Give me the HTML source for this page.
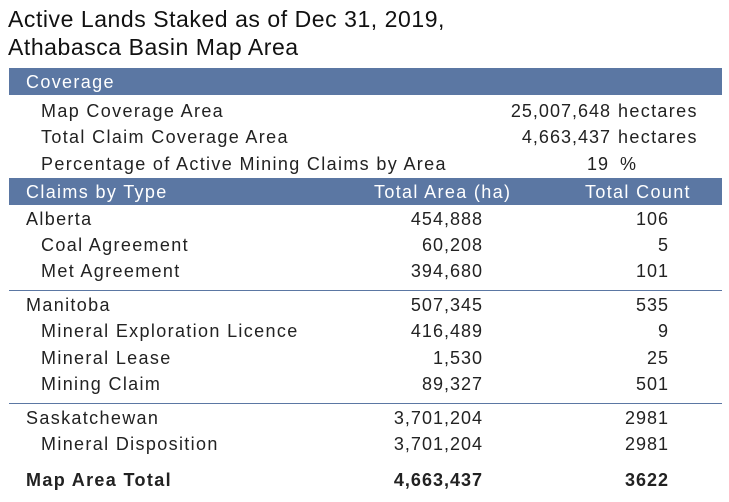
<!DOCTYPE html>
<html><head><meta charset="utf-8"><style>
body{margin:0;width:729px;height:502px;background:#fff;position:relative;overflow:hidden;font-family:"Liberation Sans",sans-serif;color:#222;}
.t{position:absolute;font-size:23px;left:8px;color:#111;letter-spacing:0.55px;}
.bar{position:absolute;left:9px;width:713px;height:27px;background:#5b77a3;}
.r{position:absolute;font-size:18px;letter-spacing:1.35px;line-height:20px;white-space:nowrap;}
.ra{text-align:right;letter-spacing:1px;}
.w{color:#fff;}
.hl{position:absolute;left:9px;width:713px;height:1px;background:#5b77a3;}
b{font-weight:bold;}
</style></head><body>
<div class="t" style="top:6px">Active Lands Staked as of Dec 31, 2019,</div>
<div class="t" style="top:34px">Athabasca Basin Map Area</div>
<div class="bar" style="top:68px"></div>
<div class="r w" style="left:26px;top:72px">Coverage</div>
<div class="r" style="left:41px;top:101px">Map Coverage Area</div>
<div class="r ra" style="right:118px;top:101px">25,007,648</div>
<div class="r" style="left:618px;top:101px">hectares</div>
<div class="r" style="left:41px;top:127px">Total Claim Coverage Area</div>
<div class="r ra" style="right:118px;top:127px">4,663,437</div>
<div class="r" style="left:618px;top:127px">hectares</div>
<div class="r" style="left:41px;top:154px">Percentage of Active Mining Claims by Area</div>
<div class="r ra" style="right:120px;top:154px">19</div>
<div class="r" style="left:620px;top:154px">%</div>
<div class="bar" style="top:178px"></div>
<div class="r w" style="left:26px;top:182px">Claims by Type</div>
<div class="r w" style="left:374px;top:182px">Total Area (ha)</div>
<div class="r w" style="left:585px;top:182px">Total Count</div>

<div class="r" style="left:26px;top:209px">Alberta</div>
<div class="r ra" style="right:246px;top:209px">454,888</div>
<div class="r ra" style="right:60px;top:209px">106</div>
<div class="r" style="left:41px;top:235px">Coal Agreement</div>
<div class="r ra" style="right:246px;top:235px">60,208</div>
<div class="r ra" style="right:60px;top:235px">5</div>
<div class="r" style="left:41px;top:261px">Met Agreement</div>
<div class="r ra" style="right:246px;top:261px">394,680</div>
<div class="r ra" style="right:60px;top:261px">101</div>
<div class="hl" style="top:290px"></div>
<div class="r" style="left:26px;top:295px">Manitoba</div>
<div class="r ra" style="right:246px;top:295px">507,345</div>
<div class="r ra" style="right:60px;top:295px">535</div>
<div class="r" style="left:41px;top:321px">Mineral Exploration Licence</div>
<div class="r ra" style="right:246px;top:321px">416,489</div>
<div class="r ra" style="right:60px;top:321px">9</div>
<div class="r" style="left:41px;top:348px">Mineral Lease</div>
<div class="r ra" style="right:246px;top:348px">1,530</div>
<div class="r ra" style="right:60px;top:348px">25</div>
<div class="r" style="left:41px;top:374px">Mining Claim</div>
<div class="r ra" style="right:246px;top:374px">89,327</div>
<div class="r ra" style="right:60px;top:374px">501</div>
<div class="hl" style="top:403px"></div>
<div class="r" style="left:26px;top:408px">Saskatchewan</div>
<div class="r ra" style="right:246px;top:408px">3,701,204</div>
<div class="r ra" style="right:60px;top:408px">2981</div>
<div class="r" style="left:41px;top:434px">Mineral Disposition</div>
<div class="r ra" style="right:246px;top:434px">3,701,204</div>
<div class="r ra" style="right:60px;top:434px">2981</div>
<div class="r" style="left:26px;top:470px"><b>Map Area Total</b></div>
<div class="r ra" style="right:246px;top:470px"><b>4,663,437</b></div>
<div class="r ra" style="right:60px;top:470px"><b>3622</b></div>
</body></html>
